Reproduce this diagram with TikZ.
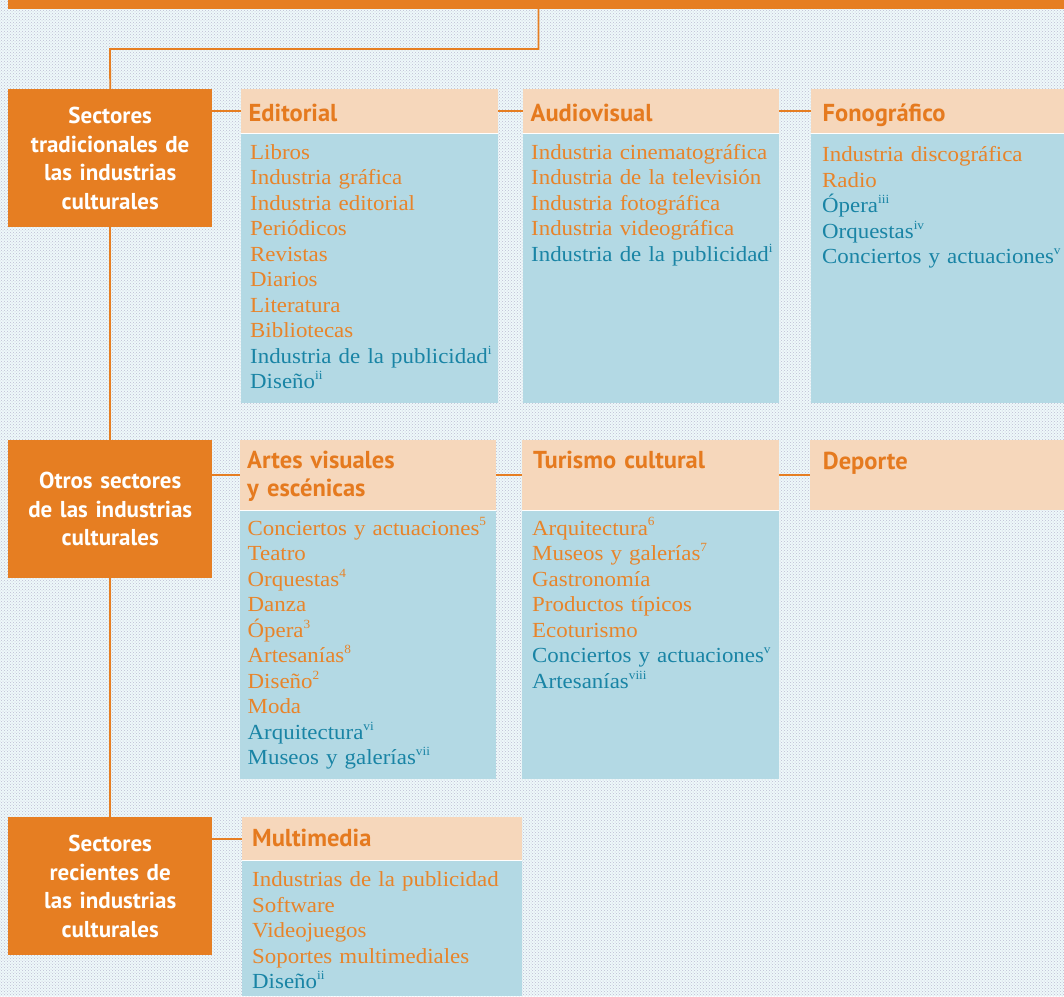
\documentclass[tikz,border=0pt]{standalone}
\usepackage{fontspec}
\setmainfont{Liberation Serif}[FakeStretch=1.065]
\newfontfamily\hdfont{PT Sans}
\usetikzlibrary{patterns}
\definecolor{orng}{HTML}{E67E22}
\definecolor{horng}{HTML}{E57A1F}
\definecolor{peach}{HTML}{F6D7BB}
\definecolor{bodyblue}{HTML}{B3D9E4}
\definecolor{txo}{HTML}{E8842A}
\definecolor{tealtx}{HTML}{1984A5}
\definecolor{bgc}{HTML}{EEF8FA}
\definecolor{dotc}{HTML}{BDBDD2}
\newcommand{\ora}[1]{\textcolor{txo}{#1}}
\newcommand{\tea}[1]{\textcolor{tealtx}{#1}}
\newcommand{\sps}[1]{\raisebox{0.42em}{\fontsize{12.5}{12.5}\selectfont #1}}
\tikzset{
  sector/.style={fill=orng, anchor=north west, inner sep=0pt, text=white,
    font=\hdfont\bfseries\fontsize{23}{28.5}\selectfont, align=center,
    text width=200pt, minimum width=204pt, minimum height=138pt},
  headbox/.style={fill=peach, anchor=north west, inner sep=0pt},
  bodybox/.style={fill=bodyblue, anchor=north west, inner sep=0pt},
  htext/.style={anchor=base west, inner sep=0pt, text=horng,
    font=\hdfont\bfseries\fontsize{24.5}{27.7}\selectfont, text width=240pt, align=left},
  items/.style={anchor=base west, inner sep=0pt,
    font=\fontsize{21.5}{25.55}\selectfont, text width=270pt, align=left},
  link/.style={draw=orng, line width=1.8pt},
  sepline/.style={draw=white, line width=0.8pt}
}
\begin{document}
\begin{tikzpicture}[x=1pt,y=-1pt]
\useasboundingbox (0,0) rectangle (1064,996);
\fill[bgc] (0,0) rectangle (1064,996);
\fill[pattern=crosshatch dots, pattern color=dotc] (0,0) rectangle (1064,996);

% top bar
\node[fill=orng, anchor=north west, inner sep=0pt, minimum width=1056pt, minimum height=9pt] (topbar) at (8,0) {};

% sector boxes
\node[sector] (s1) at (8,89) {Sectores\\tradicionales de\\las industrias\\culturales};
\node[sector] (s2) at (8,440) {Otros sectores\\de las industrias\\culturales};
\node[sector] (s3) at (8,817) {Sectores\\recientes de\\las industrias\\culturales};

% row 1 boxes
\node[headbox, minimum width=257pt, minimum height=44pt] (edh) at (241,89) {};
\node[bodybox, minimum width=257pt, minimum height=270pt] (edb) at (241,133) {};
\node[headbox, minimum width=256pt, minimum height=44pt] (avh) at (523,89) {};
\node[bodybox, minimum width=256pt, minimum height=270pt] (avb) at (523,133) {};
\node[headbox, minimum width=253pt, minimum height=44pt] (foh) at (811,89) {};
\node[bodybox, minimum width=253pt, minimum height=270pt] (fob) at (811,133) {};

% row 2 boxes
\node[headbox, minimum width=256pt, minimum height=70pt] (arh) at (240,440) {};
\node[bodybox, minimum width=256pt, minimum height=269pt] (arb) at (240,510) {};
\node[headbox, minimum width=257pt, minimum height=70pt] (tuh) at (522,440) {};
\node[bodybox, minimum width=257pt, minimum height=269pt] (tub) at (522,510) {};
\node[headbox, minimum width=254pt, minimum height=70pt] (deh) at (810,440) {};

% row 3 boxes
\node[headbox, minimum width=280pt, minimum height=43pt] (muh) at (242,817) {};
\node[bodybox, minimum width=280pt, minimum height=136pt] (mub) at (242,860) {};

% separators
\draw[sepline] (edb.north west) -- (edb.north east);
\draw[sepline] (avb.north west) -- (avb.north east);
\draw[sepline] (fob.north west) -- (fob.north east);
\draw[sepline] (arb.north west) -- (arb.north east);
\draw[sepline] (tub.north west) -- (tub.north east);
\draw[sepline] (mub.north west) -- (mub.north east);

% connectors
\coordinate (tb) at (538.5,9);
\coordinate (bend) at (110,49);
\draw[link] (tb) |- (bend) -- (s1.north);
\draw[link] (s1.south) -- (s2.north);
\draw[link] (s2.south) -- (s3.north);
\draw[link] (s1.east |- edh.center) -- (edh.west);
\draw[link] (edh.east) -- (avh.west);
\draw[link] (avh.east) -- (foh.west);
\draw[link] (s2.east |- arh.center) -- (arh.west);
\draw[link] (arh.east) -- (tuh.west);
\draw[link] (tuh.east) -- (deh.west);
\draw[link] (s3.east |- muh.center) -- (muh.west);

% headers
\node[htext] (edt) at (248.5,121.7) {Editorial};
\node[htext] (avt) at (530.5,121.7) {Audiovisual};
\node[htext] (fot) at (822.5,121.7) {Fonográfico};
\node[htext] (art) at (247,468.3) {Artes visuales\\y escénicas};
\node[htext] (tut) at (533,468.3) {Turismo cultural};
\node[htext] (det) at (822.7,469) {Deporte};
\node[htext] (mut) at (252,846.7) {Multimedia};

% items
\node[items] (edi) at (250,159) {\ora{Libros}\\\ora{Industria gráfica}\\\ora{Industria editorial}\\\ora{Periódicos}\\\ora{Revistas}\\\ora{Diarios}\\\ora{Literatura}\\\ora{Bibliotecas}\\\tea{Industria de la publicidad\sps{i}}\\\tea{Diseño\sps{ii}}};
\node[items] (avi) at (531,159) {\ora{Industria cinematográfica}\\\ora{Industria de la televisión}\\\ora{Industria fotográfica}\\\ora{Industria videográfica}\\\tea{Industria de la publicidad\sps{i}}};
\node[items] (foi) at (822,161.5) {\ora{Industria discográfica}\\\ora{Radio}\\\tea{Ópera\sps{iii}}\\\tea{Orquestas\sps{iv}}\\\tea{Conciertos y actuaciones\sps{v}}};
\node[items] (ari) at (247.5,535) {\ora{Conciertos y actuaciones\sps{5}}\\\ora{Teatro}\\\ora{Orquestas\sps{4}}\\\ora{Danza}\\\ora{Ópera\sps{3}}\\\ora{Artesanías\sps{8}}\\\ora{Diseño\sps{2}}\\\ora{Moda}\\\tea{Arquitectura\sps{vi}}\\\tea{Museos y galerías\sps{vii}}};
\node[items] (tui) at (532,535) {\ora{Arquitectura\sps{6}}\\\ora{Museos y galerías\sps{7}}\\\ora{Gastronomía}\\\ora{Productos típicos}\\\ora{Ecoturismo}\\\tea{Conciertos y actuaciones\sps{v}}\\\tea{Artesanías\sps{viii}}};
\node[items] (mui) at (252,886.7) {\ora{Industrias de la publicidad}\\\ora{Software}\\\ora{Videojuegos}\\\ora{Soportes multimediales}\\\tea{Diseño\sps{ii}}};
\end{tikzpicture}
\end{document}
